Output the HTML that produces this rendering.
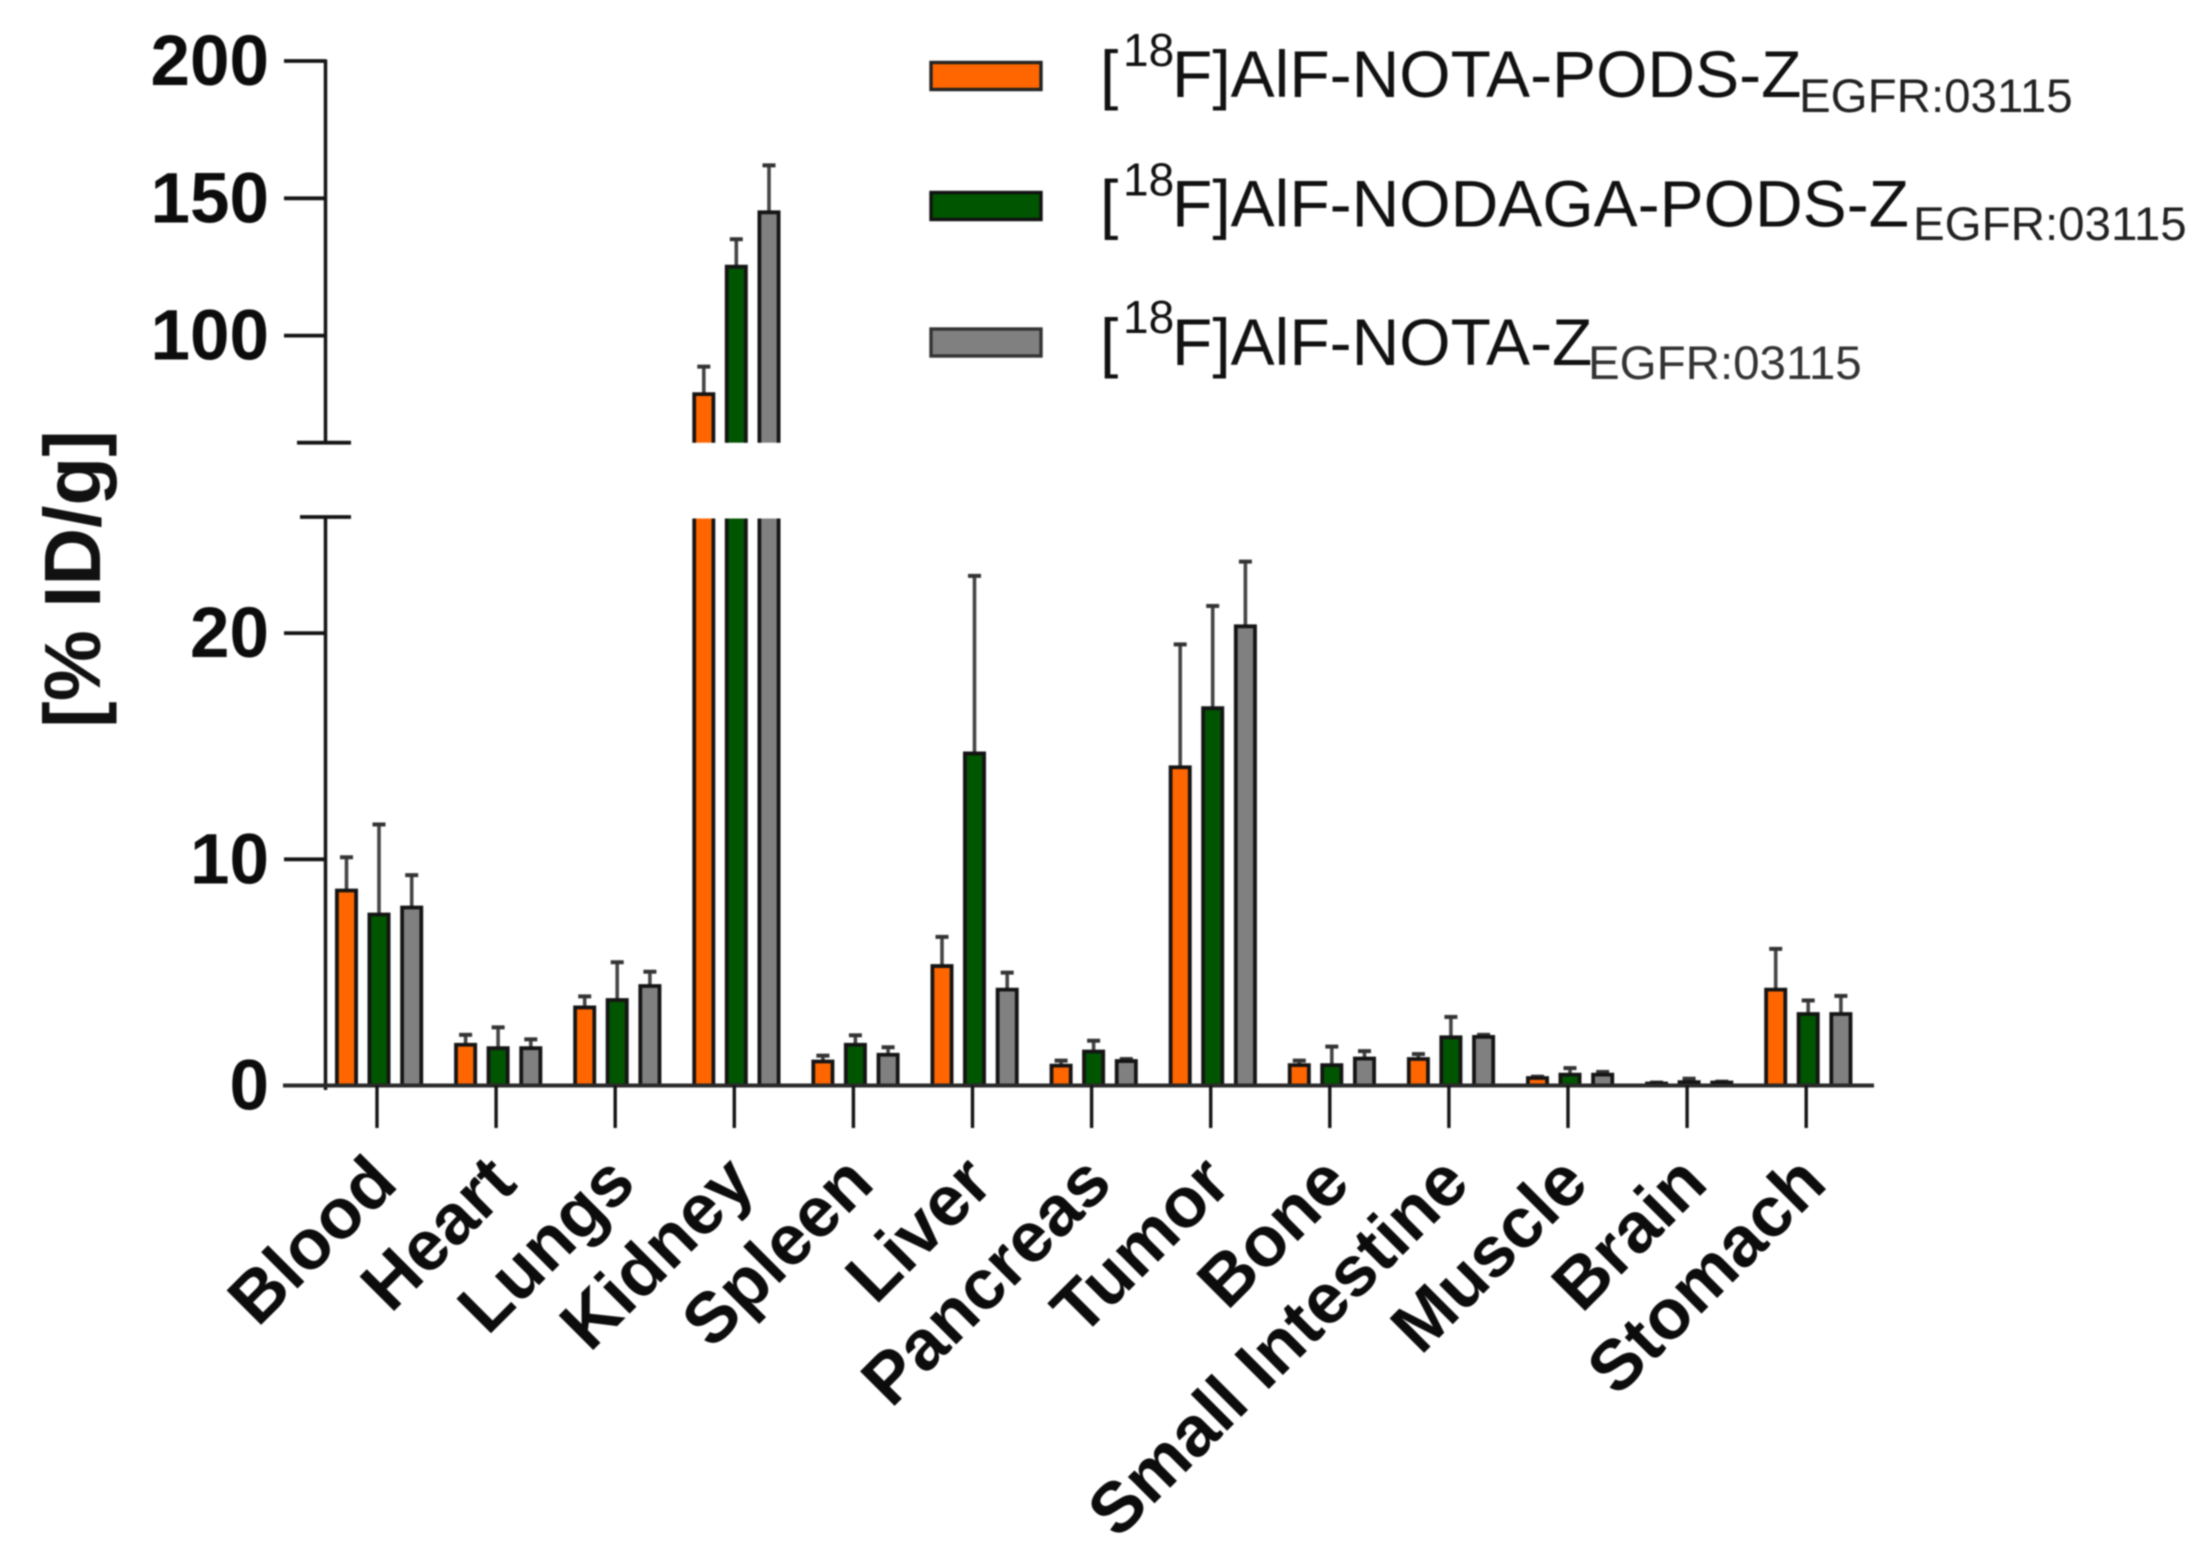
<!DOCTYPE html>
<html lang="en">
<head>
<meta charset="utf-8">
<title>Biodistribution bar chart</title>
<style>
  html, body { margin: 0; padding: 0; background: #fff; }
  body { width: 2201px; height: 1567px; overflow: hidden; }
  #chart { display: block; filter: blur(0.9px); font-family: "Liberation Sans", sans-serif; }
</style>
</head>
<body>
<svg id="chart" xmlns="http://www.w3.org/2000/svg" width="2201" height="1567" viewBox="0 0 2201 1567">
  <rect x="0" y="0" width="2201" height="1567" fill="#ffffff"/>
  <g id="plot"></g>
  <text transform="translate(100 579) rotate(-90)" text-anchor="middle" font-size="80" font-weight="700" fill="#111">[% ID/g]</text>
  <g fill="#111">
    <g>
      <rect x="931" y="62.5" width="110" height="27" fill="#ff6600" stroke="#222" stroke-width="3.4"/>
      <text font-size="66"><tspan x="1100" y="97">[</tspan><tspan x="1123" y="66" font-size="46">18</tspan><tspan x="1172" y="97">F]AlF-NOTA-PODS-Z</tspan><tspan x="1799" y="112" font-size="47.5" fill="#222">EGFR:03115</tspan></text>
    </g>
    <g>
      <rect x="931" y="192.5" width="110" height="27" fill="#005500" stroke="#111" stroke-width="3.4"/>
      <text font-size="66"><tspan x="1100" y="226.5">[</tspan><tspan x="1123" y="195.5" font-size="46">18</tspan><tspan x="1172" y="226.5">F]AlF-NODAGA-PODS-Z</tspan><tspan x="1913" y="240" font-size="47.5" fill="#222">EGFR:03115</tspan></text>
    </g>
    <g>
      <rect x="931" y="329" width="110" height="27" fill="#808080" stroke="#333" stroke-width="3.4"/>
      <text font-size="66"><tspan x="1100" y="365">[</tspan><tspan x="1123" y="333" font-size="46">18</tspan><tspan x="1172" y="365">F]AlF-NOTA-Z</tspan><tspan x="1588" y="379" font-size="47.5" fill="#333">EGFR:03115</tspan></text>
    </g>
  </g>
</svg>
<script>
const categories = ["Blood","Heart","Lungs","Kidney","Spleen","Liver","Pancreas","Tumor","Bone","Small Intestine","Muscle","Brain","Stomach"];
const seriesNames = ["nota-pods","nodaga-pods","nota"];
const seriesColors = ["#ff6600","#005500","#808080"];
const notaPodsValues   = [8.62,1.80,3.45,78.7,1.06,5.28,0.88,14.07,0.90,1.17,0.33,0.09,4.24];
const nodagaPodsValues = [7.56,1.65,3.78,125.1,1.80,14.68,1.50,16.68,0.90,2.13,0.48,0.15,3.16];
const notaValues       = [7.87,1.65,4.40,144.9,1.36,4.24,1.08,20.30,1.19,2.15,0.48,0.13,3.16];
const notaPodsErrorTops   = [10.09,2.24,3.94,88.7,1.32,6.57,1.10,19.50,1.10,1.39,0.39,0.13,6.04];
const nodagaPodsErrorTops = [11.54,2.57,5.45,135.1,2.22,22.53,1.98,21.20,1.72,3.03,0.77,0.30,3.76];
const notaErrorTops       = [9.30,2.04,5.03,162.0,1.69,4.99,1.17,23.16,1.52,2.24,0.60,0.17,3.96];
const lowerTicks = [0,10,20];
const upperTicks = [100,150,200];
const lowerDomainMax = 25;
const upperDomainMin = 61;

const seriesValues = [notaPodsValues, nodagaPodsValues, notaValues];
const seriesErrors = [notaPodsErrorTops, nodagaPodsErrorTops, notaErrorTops];

const NS = "http://www.w3.org/2000/svg";
const plot = document.getElementById("plot");
const INK = "#141414";

function yLower(v) { return 1085.5 - v * 22.62; }
function yUpper(v) { return 61 + (200 - v) * 2.746; }
function yAny(v) { return v > lowerDomainMax ? yUpper(v) : yLower(v); }
function xTick(i) { return 377 + i * 119.1; }
function xBar(i, s) { return xTick(i) + [-30.5, 2, 34.7][s]; }

function make(tag, attrs) {
  const el = document.createElementNS(NS, tag);
  for (const k in attrs) el.setAttribute(k, attrs[k]);
  plot.appendChild(el);
  return el;
}
function line(x1, y1, x2, y2, w, color) {
  return make("line", {x1: x1, y1: y1, x2: x2, y2: y2, stroke: color || INK, "stroke-width": w});
}
function slug(s) { return s.toLowerCase().replace(/\s+/g, "-"); }

function barSegment(cx, top, bottom, closedTop, color) {
  const hw = 9.6;
  const fill = make("rect", {x: cx - hw, y: top, width: hw * 2, height: bottom - top, fill: color});
  
  
  const d = closedTop
    ? "M" + (cx - hw) + " " + bottom + "V" + top + "H" + (cx + hw) + "V" + bottom
    : "M" + (cx - hw) + " " + top + "V" + bottom + "M" + (cx + hw) + " " + top + "V" + bottom;
  const outline = make("path", {d: d, fill: "none", stroke: INK, "stroke-width": 3.8});
  
  
}

// error bars first, so the bars sit on top of the stems
categories.forEach(function (cat, i) {
  seriesValues.forEach(function (vals, s) {
    const cx = xBar(i, s);
    const top = yAny(seriesErrors[s][i]);
    const stem = line(cx, yAny(vals[i]), cx, top, 3.6, "#444444");
    
    
    const cap = line(cx - 6.5, top, cx + 6.5, top, 4, "#333333");
    
    
  });
});

// bars, split across the axis break when needed
categories.forEach(function (cat, i) {
  seriesValues.forEach(function (vals, s) {
    const cx = xBar(i, s);
    const v = vals[i];
    if (v > lowerDomainMax) {
      barSegment(cx, yUpper(v), yUpper(upperDomainMin), true, seriesColors[s]);
      barSegment(cx, yLower(lowerDomainMax) - 1.5, yLower(0), false, seriesColors[s]);
    } else {
      barSegment(cx, yLower(v), yLower(0), true, seriesColors[s]);
    }
  });
});

// y axis, upper segment
const axisUpper = line(325.5, yUpper(200) - 1.5, 325.5, yUpper(upperDomainMin), 3.5);


const breakCapUpper = line(297, yUpper(upperDomainMin), 351, yUpper(upperDomainMin), 3.8);



// y axis, lower segment
const axisLower = line(325.5, 517, 325.5, 1090, 3.5);


const breakCapLower = line(300, 517, 351, 517, 3.8);



function yTick(v, y) {
  const t = line(284, y, 326, y, 3.8);
  
  
  const label = make("text", {x: 269, y: y + 24, "text-anchor": "end", "font-size": 71, "font-weight": 700, fill: "#0c0c0c"});
  label.textContent = String(v);
  
  
}
upperTicks.forEach(function (v) { yTick(v, yUpper(v)); });
lowerTicks.forEach(function (v) { yTick(v, yLower(v)); });

// x axis
const xAxis = line(283, yLower(0), 1874, yLower(0), 4, "#2a2a2a");



categories.forEach(function (cat, i) {
  const x = xTick(i);
  const t = line(x, yLower(0), x, 1128, 3.4);
  
  
  const label = make("text", {
    transform: "translate(" + (x + 23) + " 1186) rotate(-45)",
    "text-anchor": "end", "font-size": 71, "font-weight": 700, fill: "#0c0c0c"
  });
  label.textContent = cat;
  
  
});
</script>
</body>
</html>
